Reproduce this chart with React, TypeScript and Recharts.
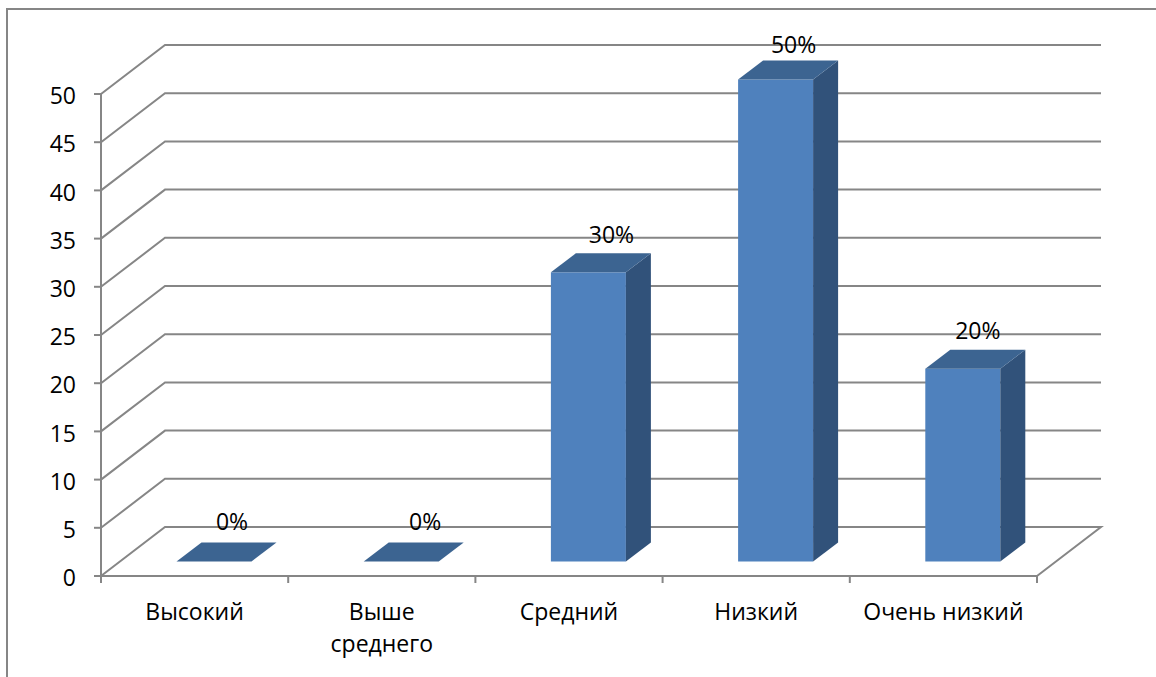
import { BarChart, Bar, XAxis, YAxis, CartesianGrid, LabelList } from 'recharts';

const categories = ['Высокий', 'Выше среднего', 'Средний', 'Низкий', 'Очень низкий'];
const values = [0, 0, 30, 50, 20];
const yTicks = [0, 5, 10, 15, 20, 25, 30, 35, 40, 45, 50];
const wrappedLabels: Record<string, string[]> = { 'Выше среднего': ['Выше', 'среднего'] };

const chartData = categories.map((name, i) => ({ name, value: values[i] }));

const FONT = '"Open Sans", sans-serif';
const FONT_SIZE = 23;
const LINE = '#868686';

// сдвиг задней стенки и глубина столбца ("3D" рисуем вручную)
const WALL_DX = 64;
const WALL_DY = 49;
const BAR_DX = 19.5;
const BAR_DY = 14.5;
const DEPTH_X = 25;
const DEPTH_Y = 19;

const BAND = 936 / categories.length;

// подписи в оригинале сдвинуты вручную
const labelNudge = [[0, -2], [6, -2], [5, 0], [0, 3], [-3, 0]];

function WallLine(props: any) {
  const { x1, x2, y1 } = props;
  const by = y1 - WALL_DY;
  const pts = [`${x1},${y1}`, `${x1 + WALL_DX},${by}`, `${x2 + WALL_DX},${by}`];
  // только нижняя линия замыкает "пол" справа
  if (y1 > 570) pts.push(`${x2},${y1}`);
  return <polyline points={pts.join(' ')} fill="none" stroke={LINE} strokeWidth={2} />;
}

function Bar3D(props: any) {
  const { x, y, width, height } = props;
  const l = x + BAR_DX;
  const r = l + width;
  const t = y - BAR_DY;
  const b = t + height;
  return (
    <g>
      {height > 0 && <rect x={l} y={t} width={width} height={height} fill="#4f81bd" />}
      {height > 0 && (
        <polygon
          points={`${r},${t} ${r + DEPTH_X},${t - DEPTH_Y} ${r + DEPTH_X},${b - DEPTH_Y} ${r},${b}`}
          fill="#31527a"
        />
      )}
      <polygon
        points={`${l},${t} ${l + DEPTH_X},${t - DEPTH_Y} ${r + DEPTH_X},${t - DEPTH_Y} ${r},${t}`}
        fill="#3c6491"
      />
    </g>
  );
}

function BarValue(props: any) {
  const { x, y, width, value, index } = props;
  const [nx, ny] = labelNudge[index] ?? [0, 0];
  return (
    <text
      x={x + width / 2 + BAR_DX + 18 + nx}
      y={y - 44 + ny}
      textAnchor="middle"
      fontSize={FONT_SIZE}
      fontFamily={FONT}
      fill="#000"
    >
      {value}%
    </text>
  );
}

function CategoryTick(props: any) {
  const { x, y, payload, index } = props;
  const lines = wrappedLabels[payload.value] ?? [payload.value];
  return (
    <g>
      <line x1={x - BAND / 2} x2={x - BAND / 2} y1={y} y2={y + 7} stroke={LINE} strokeWidth={2} />
      {index === categories.length - 1 && (
        <line x1={x + BAND / 2} x2={x + BAND / 2} y1={y} y2={y + 7} stroke={LINE} strokeWidth={2} />
      )}
      <text textAnchor="middle" fontSize={FONT_SIZE} fontFamily={FONT} fill="#000">
        {lines.map((line, i) => (
          <tspan key={line} x={x} y={y + 44 + i * 32}>
            {line}
          </tspan>
        ))}
      </text>
    </g>
  );
}

export default function App() {
  return (
    <div style={{ position: 'relative', width: 1156, height: 677, overflow: 'hidden', background: '#fff' }}>
      <style>{'body{margin:0}'}</style>
      <div
        style={{
          position: 'absolute',
          left: 6,
          top: 8,
          width: 1200,
          height: 720,
          borderLeft: `2px solid ${LINE}`,
          borderTop: `2px solid ${LINE}`,
        }}
      />
      <BarChart
        width={1156}
        height={677}
        data={chartData}
        margin={{ top: 94, right: 119, bottom: 0, left: 0 }}
        style={{ position: 'absolute', left: 0, top: 0 }}
      >
        <CartesianGrid vertical={false} horizontal={(p: any) => <WallLine key={p.key ?? p.index} {...p} />} />
        <XAxis
          dataKey="name"
          height={101}
          interval={0}
          tickLine={false}
          tickSize={0}
          tickMargin={0}
          axisLine={{ stroke: LINE, strokeWidth: 2 }}
          tick={(p: any) => <CategoryTick {...p} />}
        />
        <YAxis
          width={101}
          domain={[0, 50]}
          ticks={yTicks}
          interval={0}
          tickSize={7}
          tickMargin={18}
          axisLine={{ stroke: LINE, strokeWidth: 2 }}
          tickLine={{ stroke: LINE, strokeWidth: 2 }}
          tick={{ fontSize: FONT_SIZE, fontFamily: FONT, fill: '#000', dy: 2 }}
        />
        <Bar dataKey="value" barSize={75} isAnimationActive={false} shape={(p: any) => <Bar3D {...p} />}>
          <LabelList dataKey="value" content={(p: any) => <BarValue {...p} />} />
        </Bar>
      </BarChart>
    </div>
  );
}
